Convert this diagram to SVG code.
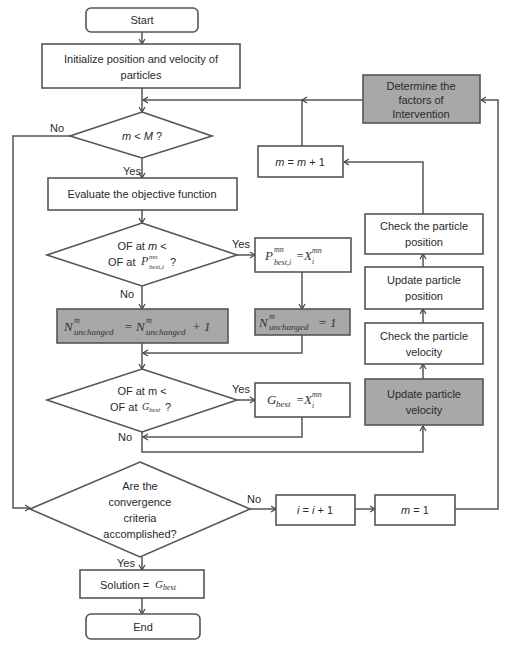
<svg xmlns="http://www.w3.org/2000/svg" width="509" height="650" viewBox="0 0 509 650">
<defs>
<marker id="ah" markerWidth="8" markerHeight="8" refX="6" refY="4" orient="auto" markerUnits="userSpaceOnUse">
<path d="M1,1 L6,4 L1,7" fill="none" stroke="#444" stroke-width="1.2"/>
</marker>
<style>
.box{fill:#fff;stroke:#555;stroke-width:1.6}
.gray{fill:#a8a8a8;stroke:#555;stroke-width:1.6}
.t{font-family:"Liberation Sans",Arial,sans-serif;font-size:11px;fill:#2a2a2a;text-anchor:middle}
.l{font-family:"Liberation Sans",Arial,sans-serif;font-size:11px;fill:#2a2a2a}
.m{font-family:"Liberation Serif","Times New Roman",serif;font-style:italic;fill:#333}
.c{fill:none;stroke:#555;stroke-width:1.5}
.ca{fill:none;stroke:#555;stroke-width:1.5;marker-end:url(#ah)}
</style>
</defs>
<rect width="509" height="650" fill="#fff"/>

<g id="connectors">
<path class="ca" d="M142,32 V44"/>
<path class="ca" d="M142,88 V112"/>
<path class="ca" d="M363,100 H302"/>
<path class="ca" d="M302,100 H143"/>
<path class="c" d="M302,146 V100"/>
<path class="ca" d="M423,214 V162 H344"/>
<path class="ca" d="M423,267 V254"/>
<path class="ca" d="M423,323 V309"/>
<path class="ca" d="M423,379 V364"/>
<path class="ca" d="M455,509 H498 V100 H481"/>
<path class="ca" d="M70,136 H13 V508 H30"/>
<path class="ca" d="M142,158 V178"/>
<path class="ca" d="M142,210 V223"/>
<path class="ca" d="M237,255 H255"/>
<path class="ca" d="M302,272 V309"/>
<path class="ca" d="M142,286 V309"/>
<path class="ca" d="M302,335 V353 H143"/>
<path class="ca" d="M142,343 V369"/>
<path class="ca" d="M237,400 H255"/>
<path class="ca" d="M302,417 V437 H143"/>
<path class="ca" d="M142,432 V452 H423 V426"/>
<path class="ca" d="M250,509 H276"/>
<path class="ca" d="M355,509 H375"/>
<path class="ca" d="M142,557 V570"/>
<path class="ca" d="M142,598 V614"/>
<text class="l" x="50" y="132">No</text>
<text class="l" x="123" y="175">Yes</text>
<text class="l" x="232" y="248">Yes</text>
<text class="l" x="120" y="298">No</text>
<text class="l" x="232" y="393">Yes</text>
<text class="l" x="118" y="441">No</text>
<text class="l" x="247" y="503">No</text>
<text class="l" x="117" y="567">Yes</text>
</g>

<g id="start"><rect class="box" x="86" y="8" width="112" height="24" rx="5"/><text class="t" x="142" y="24">Start</text></g>
<g id="init"><rect class="box" x="42" y="44" width="198" height="44"/><text class="t" x="141" y="63">Initialize position and velocity of</text><text class="t" x="141" y="79">particles</text></g>
<g id="cond-m"><polygon class="box" points="142,112 212,136 142,158 70,136"/><text class="t" x="142" y="140"><tspan font-style="italic">m</tspan> &lt; <tspan font-style="italic">M</tspan> ?</text></g>
<g id="evaluate"><rect class="box" x="48" y="178" width="189" height="32"/><text class="t" x="142" y="198">Evaluate the objective function</text></g>
<g id="cond-pbest"><polygon class="box" points="142,223 237,255 142,286 47,255"/><text class="t" x="142" y="250">OF at <tspan font-style="italic">m</tspan> &lt;</text><text class="l" x="108" y="266">OF at</text><text class="m" x="141" y="265" font-size="12">P</text><text class="m" x="149" y="259" font-size="7">mn</text><text class="m" x="149" y="269" font-size="7">best,i</text><text class="l" x="170" y="266">?</text></g>
<g id="pbest"><rect class="box" x="255" y="238" width="96" height="34"/><text class="m" x="265" y="260" font-size="13">P</text><text class="m" x="274" y="252" font-size="8">mn</text><text class="m" x="274" y="265" font-size="8">best,i</text><text class="m" x="296" y="260" font-size="12" font-style="normal">=</text><text class="m" x="304" y="260" font-size="13">X</text><text class="m" x="312" y="253" font-size="8">mn</text><text class="m" x="312" y="264" font-size="8">i</text></g>
<g id="n-inc"><rect class="gray" x="57" y="309" width="171" height="34"/><text class="m" x="64" y="331" font-size="13">N</text><text class="m" x="74" y="323" font-size="8">m</text><text class="m" x="74" y="335" font-size="9">unchanged</text><text class="m" x="124" y="331" font-size="13" font-style="normal">=</text><text class="m" x="136" y="331" font-size="13">N</text><text class="m" x="146" y="323" font-size="8">m</text><text class="m" x="146" y="335" font-size="9">unchanged</text><text class="m" x="192" y="331" font-size="13" font-style="normal">+ 1</text></g>
<g id="n-reset"><rect class="gray" x="255" y="309" width="95" height="26"/><text class="m" x="259" y="327" font-size="13">N</text><text class="m" x="269" y="319" font-size="8">m</text><text class="m" x="269" y="330" font-size="9">unchanged</text><text class="m" x="318" y="327" font-size="13" font-style="normal">= 1</text></g>
<g id="cond-gbest"><polygon class="box" points="142,369 237,400 142,432 47,400"/><text class="t" x="142" y="395">OF at m &lt;</text><text class="l" x="110" y="411">OF at</text><text class="m" x="142" y="410" font-size="10">G</text><text class="m" x="149" y="412" font-size="7">best</text><text class="l" x="165" y="411">?</text></g>
<g id="gbest"><rect class="box" x="255" y="383" width="95" height="34"/><text class="m" x="267" y="404" font-size="13">G</text><text class="m" x="276" y="407" font-size="9">best</text><text class="m" x="296" y="404" font-size="12" font-style="normal">=</text><text class="m" x="304" y="404" font-size="13">X</text><text class="m" x="312" y="397" font-size="8">mn</text><text class="m" x="312" y="408" font-size="8">i</text></g>
<g id="converge"><polygon class="box" points="140,462 250,509 140,557 30,509"/><text class="t" x="140" y="490">Are the</text><text class="t" x="140" y="506">convergence</text><text class="t" x="140" y="522">criteria</text><text class="t" x="140" y="538">accomplished?</text></g>
<g id="solution"><rect class="box" x="80" y="570" width="124" height="28"/><text class="l" x="100" y="589">Solution =</text><text class="m" x="155" y="588" font-size="11">G</text><text class="m" x="163" y="590" font-size="8">best</text></g>
<g id="end"><rect class="box" x="86" y="614" width="114" height="25" rx="5"/><text class="t" x="143" y="631">End</text></g>
<g id="inc-i"><rect class="box" x="276" y="495" width="79" height="30"/><text class="t" x="315" y="514"><tspan font-style="italic">i</tspan> = <tspan font-style="italic">i</tspan> + 1</text></g>
<g id="m-one"><rect class="box" x="375" y="495" width="80" height="30"/><text class="t" x="415" y="514"><tspan font-style="italic">m</tspan> = 1</text></g>
<g id="determine"><rect class="gray" x="363" y="75" width="117" height="48"/><text class="t" x="421" y="90">Determine the</text><text class="t" x="421" y="104">factors of</text><text class="t" x="421" y="118">Intervention</text></g>
<g id="m-inc"><rect class="box" x="258" y="146" width="85" height="31"/><text class="t" x="300" y="166"><tspan font-style="italic">m</tspan> = <tspan font-style="italic">m</tspan> + 1</text></g>
<g id="check-pos"><rect class="box" x="365" y="214" width="118" height="40"/><text class="t" x="424" y="230">Check the particle</text><text class="t" x="424" y="246">position</text></g>
<g id="update-pos"><rect class="box" x="365" y="267" width="118" height="42"/><text class="t" x="424" y="284">Update particle</text><text class="t" x="424" y="300">position</text></g>
<g id="check-vel"><rect class="box" x="365" y="323" width="118" height="41"/><text class="t" x="424" y="340">Check the particle</text><text class="t" x="424" y="356">velocity</text></g>
<g id="update-vel"><rect class="gray" x="365" y="379" width="118" height="46"/><text class="t" x="424" y="398">Update particle</text><text class="t" x="424" y="414">velocity</text></g>
</svg>
